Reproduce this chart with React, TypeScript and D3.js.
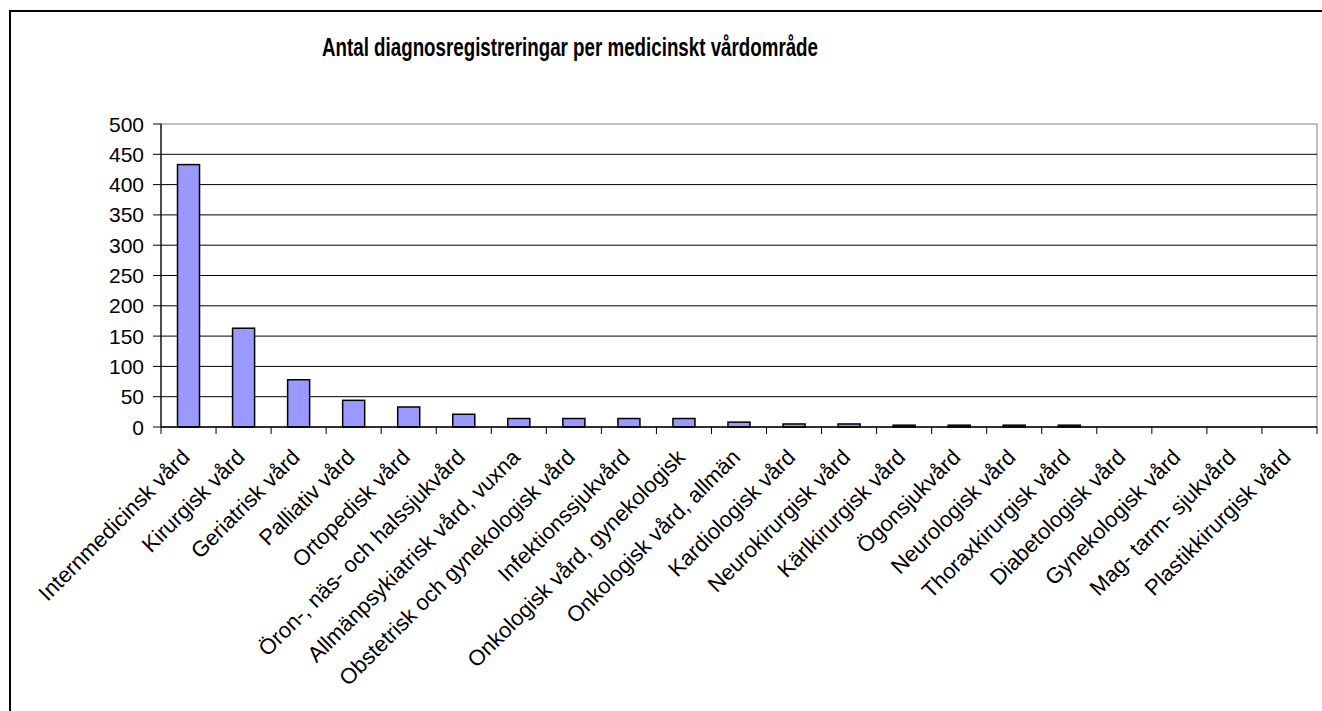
import React from 'react';
import * as d3 from 'd3';

// vårdområden, in chart order
const categories = [
  'Internmedicinsk vård',
  'Kirurgisk vård',
  'Geriatrisk vård',
  'Palliativ vård',
  'Ortopedisk vård',
  'Öron-, näs- och halssjukvård',
  'Allmänpsykiatrisk vård, vuxna',
  'Obstetrisk och gynekologisk vård',
  'Infektionssjukvård',
  'Onkologisk vård, gynekologisk',
  'Onkologisk vård, allmän',
  'Kardiologisk vård',
  'Neurokirurgisk vård',
  'Kärlkirurgisk vård',
  'Ögonsjukvård',
  'Neurologisk vård',
  'Thoraxkirurgisk vård',
  'Diabetologisk vård',
  'Gynekologisk vård',
  'Mag- tarm- sjukvård',
  'Plastikkirurgisk vård',
];
const counts = [433, 163, 78, 44, 33, 21, 14, 14, 14, 14, 8, 5, 5, 3, 3, 3, 3, 0, 0, 0, 0];
const yTicks = [0, 50, 100, 150, 200, 250, 300, 350, 400, 450, 500];
const title = 'Antal diagnosregistreringar per medicinskt vårdområde';

const W = 1322;
const H = 711;
const plot = { left: 161, right: 1317, top: 124, bottom: 427 };
const font = 'Liberation Sans, Arial, sans-serif';

export default function App() {
  const y = d3.scaleLinear().domain([0, 500]).range([plot.bottom, plot.top]);
  const xCat = d3.scaleBand<string>().domain(categories).range([plot.left, plot.right]);
  const xBar = d3
    .scaleBand<string>()
    .domain(categories)
    .range([plot.left, plot.right])
    .paddingInner(0.6)
    .paddingOuter(0.3);
  const step = xCat.step();
  const tickXs = categories.map((c) => xCat(c)!).concat([plot.right]);

  return (
    <svg width={W} height={H} style={{ position: 'absolute', left: 0, top: 0, background: '#fff' }}>
      {/* outer chart frame, cut off at right/bottom */}
      <rect x={10} y={11} width={W + 20} height={H + 20} fill="#fff" stroke="#000" strokeWidth={2} />

      <text
        x={570}
        y={56}
        textAnchor="middle"
        fontFamily={font}
        fontWeight="bold"
        fontSize={25.5}
        textLength={496}
        lengthAdjust="spacingAndGlyphs"
      >
        {title}
      </text>

      {/* plot area */}
      <rect
        x={plot.left}
        y={plot.top}
        width={plot.right - plot.left}
        height={plot.bottom - plot.top}
        fill="#fff"
        stroke="#808080"
        strokeWidth={1}
      />
      {yTicks
        .filter((t) => t > 0 && t < 500)
        .map((t) => (
          <line key={'g' + t} x1={plot.left} x2={plot.right} y1={y(t)} y2={y(t)} stroke="#000" strokeWidth={1} />
        ))}

      {/* bars */}
      {categories.map((c, i) => (
        <rect
          key={c}
          x={xBar(c)}
          y={y(counts[i])}
          width={xBar.bandwidth()}
          height={plot.bottom - y(counts[i])}
          fill="#9999FF"
          stroke="#000"
          strokeWidth={1.5}
          style={{ display: counts[i] > 0 ? undefined : 'none' }}
        />
      ))}

      {/* y axis */}
      <line x1={plot.left} x2={plot.left} y1={plot.top} y2={plot.bottom} stroke="#000" strokeWidth={1.2} />
      {yTicks.map((t) => (
        <g key={'y' + t}>
          <line x1={plot.left - 8} x2={plot.left} y1={y(t)} y2={y(t)} stroke="#000" strokeWidth={1} />
          <text x={144} y={y(t)} dy="0.36em" textAnchor="end" fontFamily={font} fontSize={21}>
            {t}
          </text>
        </g>
      ))}

      {/* x axis */}
      <line x1={plot.left} x2={plot.right} y1={plot.bottom} y2={plot.bottom} stroke="#000" strokeWidth={1.5} />
      {tickXs.map((tx, i) => (
        <line key={'t' + i} x1={tx} x2={tx} y1={plot.bottom} y2={plot.bottom + 7} stroke="#000" strokeWidth={1} />
      ))}
      {categories.map((c) => {
        const cx = xCat(c)! + step / 2;
        return (
          <text
            key={'l' + c}
            transform={`translate(${cx - 3},${453}) rotate(-45)`}
            textAnchor="end"
            dy="0.36em"
            fontFamily={font}
            fontSize={22}
          >
            {c}
          </text>
        );
      })}
    </svg>
  );
}
